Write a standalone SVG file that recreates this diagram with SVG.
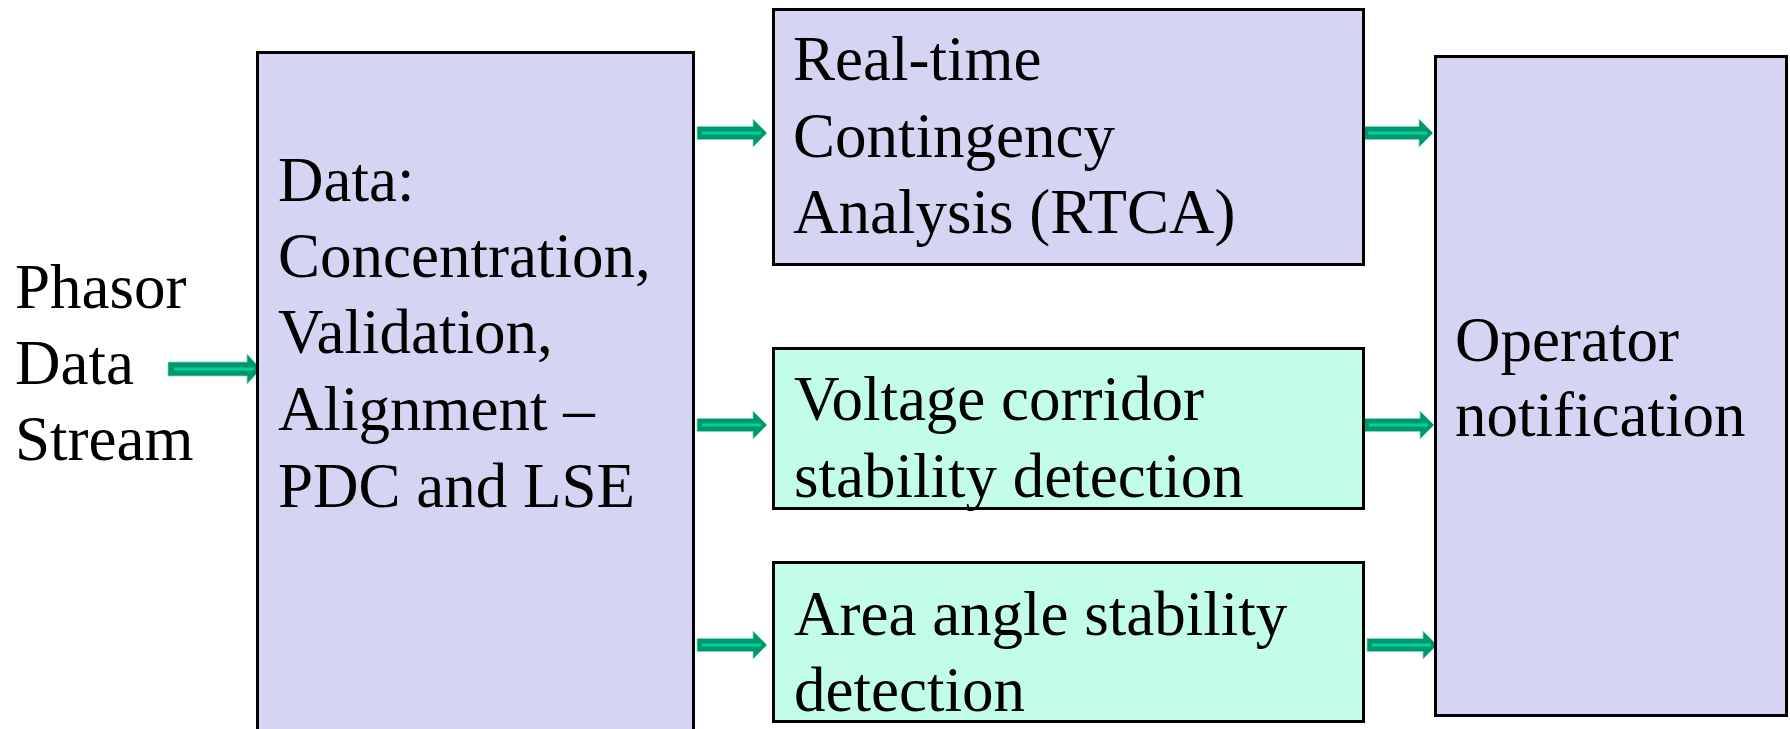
<svg xmlns="http://www.w3.org/2000/svg" width="1790" height="729" viewBox="0 0 1790 729">
<style>
.box{stroke:#000;stroke-width:3}
.lav{fill:#D5D5F3}
.cyan{fill:#C2FDEC}
.t{font-family:"Liberation Serif","Times New Roman",serif;font-size:63px;fill:#000}
.arw{fill:#009670;stroke:#7fd9bd;stroke-width:0.8}
.hl{stroke:#00D494;stroke-width:3;fill:none}
</style>
<defs>
<g id="arrow">
<path class="arw" d="M0,-6.5 H56 V-14 L70,0 L56,14 V6.5 H0 Z"/>
<line class="hl" x1="5" y1="0" x2="64" y2="0"/>
</g>
</defs>
<rect width="1790" height="729" fill="#fff"/>
<g id="connectors">
<g id="arrow-phasor">
<path class="arw" d="M168,362 H247 V354 L261,369 L247,384 V376 H168 Z"/>
<line class="hl" x1="174" y1="369" x2="254" y2="369"/>
</g>
<use href="#arrow" transform="translate(697,133)"/>
<use href="#arrow" transform="translate(697,425)"/>
<use href="#arrow" transform="translate(697,645)"/>
<use href="#arrow" transform="translate(1363,133)"/>
<use href="#arrow" transform="translate(1364,425)"/>
<use href="#arrow" transform="translate(1367,645)"/>
</g>
<g id="phasor">
<text class="t" x="15" y="308">Phasor</text>
<text class="t" x="15" y="384">Data</text>
<text class="t" x="15" y="460">Stream</text>
</g>
<g id="data">
<rect class="box lav" x="257.5" y="52.5" width="436" height="700"/>
<text class="t" x="278" y="201">Data:</text>
<text class="t" x="278" y="277">Concentration,</text>
<text class="t" x="278" y="353">Validation,</text>
<text class="t" x="278" y="430">Alignment –</text>
<text class="t" x="278" y="507">PDC and LSE</text>
</g>
<g id="rtca">
<rect class="box lav" x="773.5" y="9.5" width="590" height="255"/>
<text class="t" x="793" y="80">Real-time</text>
<text class="t" x="793" y="157">Contingency</text>
<text class="t" x="793" y="233">Analysis (RTCA)</text>
</g>
<g id="voltage">
<rect class="box cyan" x="773.5" y="348.5" width="590" height="160"/>
<text class="t" x="794" y="420">Voltage corridor</text>
<text class="t" x="794" y="497">stability detection</text>
</g>
<g id="area">
<rect class="box cyan" x="773.5" y="562.5" width="590" height="159"/>
<text class="t" x="794" y="635">Area angle stability</text>
<text class="t" x="794" y="711">detection</text>
</g>
<g id="operator">
<rect class="box lav" x="1435.5" y="56.5" width="351" height="659"/>
<text class="t" x="1455" y="361">Operator</text>
<text class="t" x="1455" y="436">notification</text>
</g>
</svg>
